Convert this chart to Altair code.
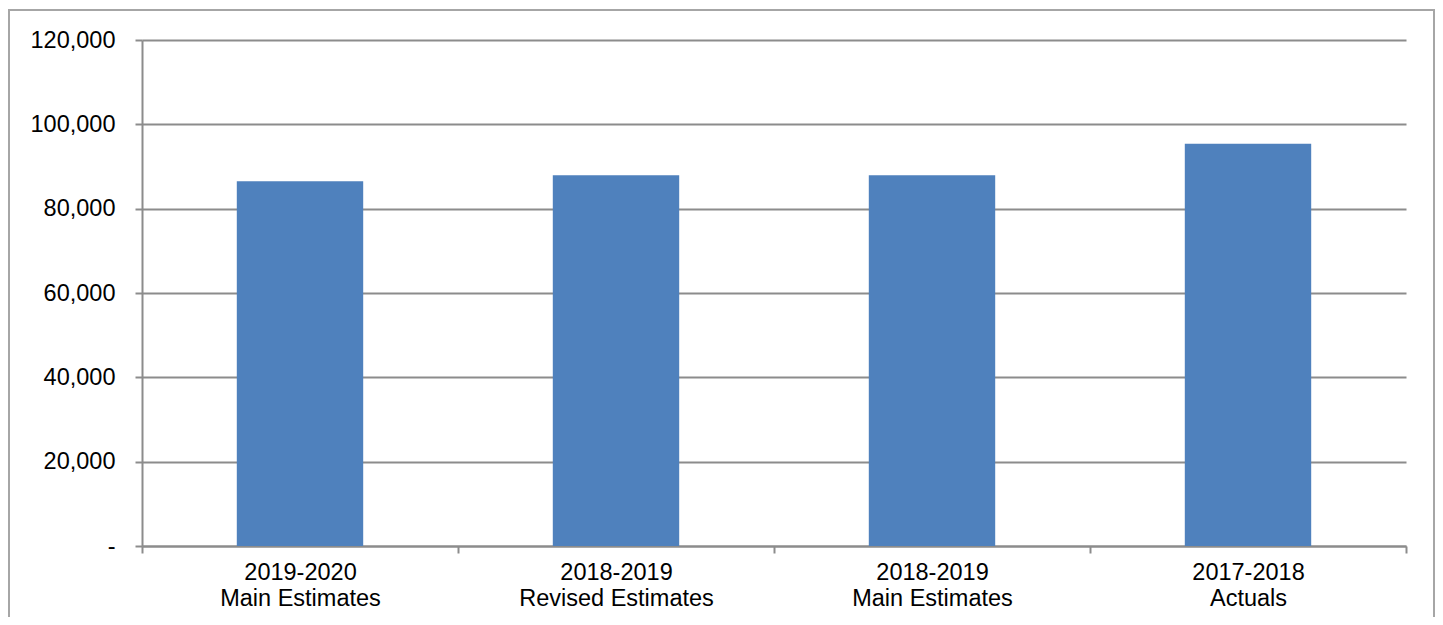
import altair as alt
import pandas as pd

categories = [
    "2019-2020|Main Estimates",
    "2018-2019|Revised Estimates",
    "2018-2019|Main Estimates",
    "2017-2018|Actuals",
]
values = [86500, 87900, 87900, 95400]
y_ticks = [0, 20000, 40000, 60000, 80000, 100000, 120000]

df = pd.DataFrame({"category": categories, "value": values})

GRAY = "#8c8c8c"
FONT = "Liberation Sans"
FS = 23.5

bars = alt.Chart(df).mark_bar(
    color="#4F81BD", width=alt.RelativeBandSize(0.4)
).encode(
    x=alt.X(
        "category:N",
        sort=categories,
        title=None,
        scale=alt.Scale(paddingInner=0, paddingOuter=0),
        axis=alt.Axis(
            labelExpr="split(datum.label, '|')",
            labelAngle=0,
            labelFont=FONT,
            labelFontSize=FS,
            labelColor="black",
            labelLineHeight=26,
            labelPadding=7,
            labelLimit=0,
            tickBand="extent",
            tickSize=7,
            tickColor=GRAY,
            tickWidth=2,
            domainColor=GRAY,
            domainWidth=2,
            grid=False,
        ),
    ),
    y=alt.Y(
        "value:Q",
        title=None,
        scale=alt.Scale(domain=[0, 120000], nice=False),
        axis=alt.Axis(
            values=y_ticks,
            labelExpr="datum.value == 0 ? '-' : format(datum.value, ',')",
            labelFont=FONT,
            labelFontSize=FS,
            labelColor="black",
            labelPadding=20,
            tickSize=7,
            tickColor=GRAY,
            tickWidth=2,
            domainColor=GRAY,
            domainWidth=2,
            grid=True,
            gridColor=GRAY,
            gridWidth=2,
            gridOpacity=1,
        ),
    ),
)

frame = alt.Chart(alt.Data(values=[{"f": 1}])).mark_rect(
    fill="transparent", stroke="#a6a6a6", strokeWidth=2
).encode(
    x=alt.value(-133),
    x2=alt.value(1292),
    y=alt.value(-30),
    y2=alt.value(620),
)

chart = alt.layer(frame, bars).properties(
    width=1264,
    height=506,
    autosize=alt.AutoSizeParams(type="none"),
    padding={"left": 134, "top": 32, "right": 29, "bottom": 71},
    background="white",
).configure_view(stroke=None)

chart.save("out.html", embed_options={"renderer": "svg", "actions": False})
